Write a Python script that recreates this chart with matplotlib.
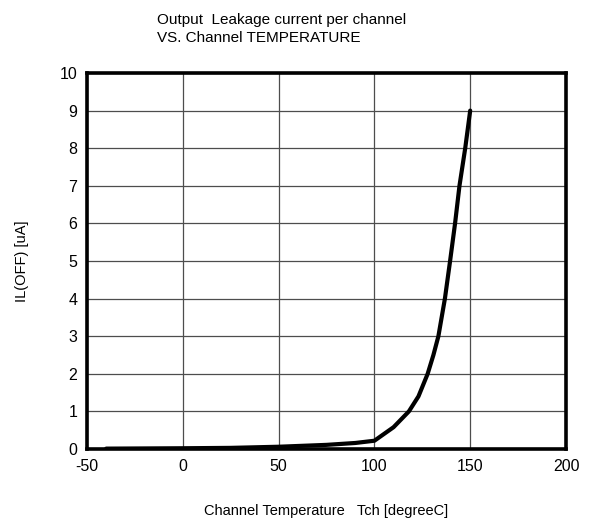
import numpy as np
import matplotlib.pyplot as plt

plt.rcParams['font.family'] = ['Liberation Sans', 'DejaVu Sans']
plt.rcParams['axes.unicode_minus'] = False

# channel temperature [degC] and leakage current [uA]
tch = [-40, 0, 25, 50, 75, 90, 100, 105, 110, 118, 123, 127.8, 130.8, 133.4, 136.8, 139.5, 142.1, 144.4, 147.4, 150]
il_off = [0.01, 0.02, 0.03, 0.06, 0.11, 0.16, 0.22, 0.4, 0.58, 1.0, 1.4, 2.0, 2.5, 3.0, 4.0, 5.0, 6.0, 7.0, 8.0, 9.0]

xticks = [-50, 0, 50, 100, 150, 200]
yticks = list(range(0, 11))

fig = plt.figure(figsize=(5.89, 5.23), dpi=100)
ax = fig.add_axes([87 / 589, 1 - 449 / 523, (566 - 87) / 589, (449 - 73) / 523])

ax.plot(tch, il_off, color='black', lw=3, solid_capstyle='round',
        solid_joinstyle='round', zorder=3)

ax.set_xlim(-50, 200)
ax.set_ylim(0, 10)
ax.set_xticks(xticks)
ax.set_yticks(yticks)
ax.tick_params(length=0, labelsize=11.5, pad=7)
ax.grid(True, color='#4d4d4d', lw=0.9)
ax.set_axisbelow(True)
for s in ax.spines.values():
    s.set_linewidth(2.6)
    s.set_color('black')

ax.set_xlabel('Channel Temperature   Tch [degreeC]', fontsize=10.5, labelpad=22)
ax.set_ylabel('IL(OFF) [uA]', fontsize=10.5, labelpad=22)

fig.text(157 / 589, 1 - 29 / 523,
         'Output  Leakage current per channel\nVS. Channel TEMPERATURE',
         fontsize=11, ha='left', va='center', linespacing=1.3)

fig.savefig('out.png', dpi=100)
